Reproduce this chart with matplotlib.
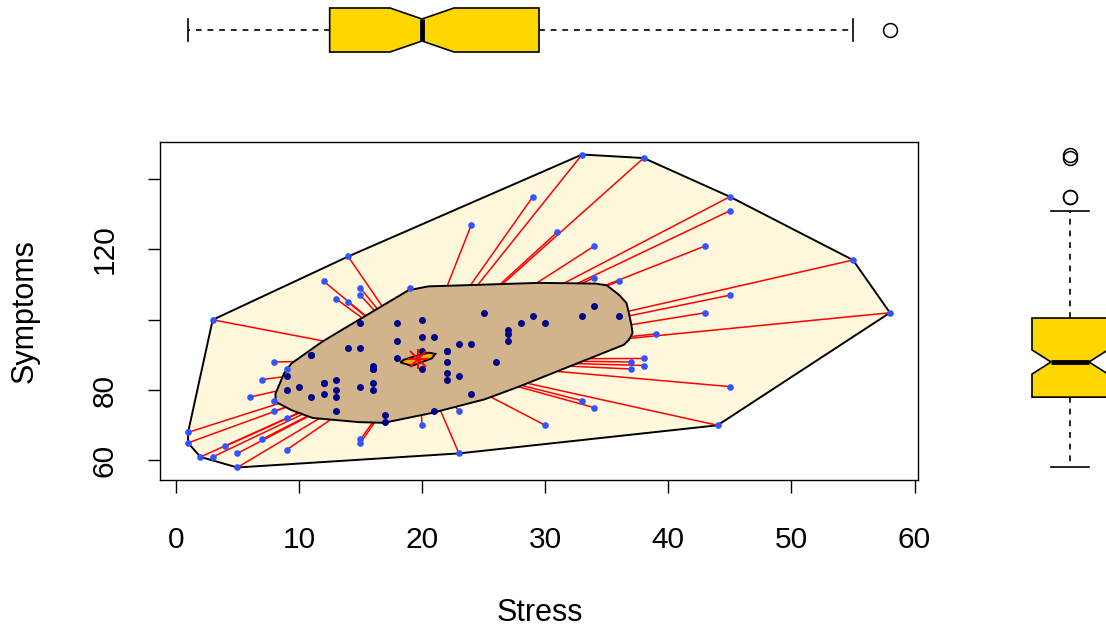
import numpy as np
import matplotlib
matplotlib.use("Agg")
import matplotlib.pyplot as plt
from matplotlib.patches import Polygon

plt.rcParams["font.family"] = ["Liberation Sans", "DejaVu Sans"]

# points outside the bag (inside the loop)
out_stress = [1, 1, 2, 3, 5, 4, 5, 7, 9, 8, 9, 7, 6, 8, 8, 9, 3, 12, 14, 13,
              14, 15, 15, 19, 24, 29, 33, 38, 45, 45, 31, 34, 43, 34, 36, 55,
              58, 45, 43, 39, 38, 38, 37, 37, 45, 33, 34, 30, 44, 23, 23, 20,
              15, 15]
out_symptoms = [68, 65, 61, 61, 58, 64, 62, 66, 63, 88, 86, 83, 78, 77, 74, 72,
                100, 111, 118, 106, 105, 109, 107, 109, 127, 135, 147, 146, 135,
                131, 125, 121, 121, 112, 111, 117, 102, 107, 102, 96, 89, 87, 88,
                86, 81, 77, 75, 70, 70, 74, 62, 70, 66, 65]

# points inside the bag (last four are repeated values, hidden under others,
# needed for the marginal box hinges to match)
bag_stress = [9, 9, 10, 11, 11, 12, 12, 13, 13, 13, 13, 14, 15, 15, 15, 16, 16,
              16, 16, 17, 17, 18, 18, 18, 20, 20, 21, 20, 20, 21, 22, 22, 22,
              22, 23, 24, 23, 24, 25, 26, 27, 27, 27, 28, 29, 30, 33, 34, 36,
              12, 11, 16, 22]
bag_symptoms = [84, 80, 81, 90, 78, 82, 79, 83, 80, 78, 74, 92, 92, 81, 99, 87,
                86, 82, 80, 73, 71, 99, 94, 89, 100, 95, 95, 91, 86, 74, 91, 88,
                85, 83, 93, 93, 84, 79, 102, 88, 97, 96, 94, 99, 101, 99, 101,
                104, 101,
                82, 90, 86, 91]

# bag outline
bag_hull_x = [18.9, 20.5, 29.5, 34.1, 35.0, 36.0, 36.6, 36.8, 37.0, 37.1, 36.8,
              36.4, 27.8, 25.1, 20.8, 16.9, 14.85, 11.1, 9.4, 8.1, 8.1, 8.8,
              9.4, 11.9]
bag_hull_y = [108.4, 109.5, 110.5, 110.3, 109.8, 107.1, 104.8, 101.9, 98.6,
              96.2, 94.3, 92.9, 80.9, 77.4, 73.5, 70.7, 70.9, 72.1, 74.3, 76.7,
              79.0, 84.8, 87.6, 93.8]

# depth median region and centre
med_hull_x = [18.24, 19.18, 20.8, 21.08, 20.54, 19.46, 18.5]
med_hull_y = [87.9, 86.9, 89.05, 90.3, 90.65, 89.7, 88.6]
center_x, center_y = 19.7, 88.8

all_x = np.array(out_stress + bag_stress, dtype=float)
all_y = np.array(out_symptoms + bag_symptoms, dtype=float)


def convex_hull(pts):
    pts = sorted(set(map(tuple, pts)))
    def cross(o, a, b):
        return (a[0] - o[0]) * (b[1] - o[1]) - (a[1] - o[1]) * (b[0] - o[0])
    lower, upper = [], []
    for p in pts:
        while len(lower) >= 2 and cross(lower[-2], lower[-1], p) <= 0:
            lower.pop()
        lower.append(p)
    for p in reversed(pts):
        while len(upper) >= 2 and cross(upper[-2], upper[-1], p) <= 0:
            upper.pop()
        upper.append(p)
    return np.array(lower[:-1] + upper[:-1])


def r_box_stats(v):
    # R style fivenum hinges, fences and notches
    v = np.sort(np.asarray(v, dtype=float))
    n = len(v)
    n4 = np.floor((n + 3) / 2) / 2
    d = np.array([1, n4, (n + 1) / 2, n + 1 - n4, n]) - 1
    fn = 0.5 * (v[np.floor(d).astype(int)] + v[np.ceil(d).astype(int)])
    iqr = fn[3] - fn[1]
    lo_f, hi_f = fn[1] - 1.5 * iqr, fn[3] + 1.5 * iqr
    inside = v[(v >= lo_f) & (v <= hi_f)]
    return dict(med=fn[2], q1=fn[1], q3=fn[3],
                whislo=inside.min(), whishi=inside.max(),
                fliers=v[(v < lo_f) | (v > hi_f)],
                cilo=fn[2] - 1.58 * iqr / np.sqrt(n),
                cihi=fn[2] + 1.58 * iqr / np.sqrt(n))


W, H = 1106, 629
fig = plt.figure(figsize=(W / 100, H / 100), dpi=100)

xlim = (-1.28, 60.28)
ylim = (54.44, 150.56)

ax = fig.add_axes([160 / W, 1 - 480 / H, 758 / W, 338 / H])
ax.set_xlim(*xlim)
ax.set_ylim(*ylim)

hull = convex_hull(np.column_stack([all_x, all_y]))
ax.add_patch(Polygon(hull, closed=True, facecolor="cornsilk", edgecolor="black",
                     lw=1.4, zorder=1))
for px, py in zip(out_stress, out_symptoms):
    ax.plot([center_x, px], [center_y, py], color="red", lw=1.1, zorder=2)
ax.add_patch(Polygon(np.column_stack([bag_hull_x, bag_hull_y]), closed=True,
                     facecolor="tan", edgecolor="black", lw=1.4, zorder=3))
ax.plot(out_stress, out_symptoms, "o", color="#3355FF", ms=4.8, mec="none", zorder=4)
ax.plot(bag_stress, bag_symptoms, "o", color="#000088", ms=5, mec="none", zorder=4)
ax.add_patch(Polygon(np.column_stack([med_hull_x, med_hull_y]), closed=True,
                     facecolor="orange", edgecolor="black", lw=1.4, zorder=5))
ax.plot(center_x, center_y, marker="+", color="red", ms=15, mew=1.4, zorder=6)
ax.plot(center_x, center_y, marker="x", color="red", ms=11, mew=1.4, zorder=6)

ax.set_xticks([0, 10, 20, 30, 40, 50, 60])
ax.set_yticks([60, 80, 100, 120, 140])
ax.set_yticklabels(["60", "80", "", "120", ""], rotation=90, va="center")
ax.tick_params(direction="out", length=9, width=1, labelsize=21.5)
ax.tick_params(axis="x", pad=24)
ax.tick_params(axis="y", pad=21)
for s in ax.spines.values():
    s.set_linewidth(1)

fig.text(540 / W, 1 - 613 / H, "Stress", ha="center", va="center", fontsize=22)
fig.text(25 / W, 1 - 311 / H, "Symptoms", ha="center", va="center",
         rotation=90, fontsize=22)

box_kw = dict(patch_artist=True, showfliers=True, shownotches=True,
              boxprops=dict(facecolor="gold", edgecolor="black", lw=1.2),
              medianprops=dict(color="black", lw=3.5, solid_capstyle="butt"),
              whiskerprops=dict(color="black", lw=1.2, linestyle=(0, (3.5, 3.5))),
              capprops=dict(color="black", lw=1.2),
              flierprops=dict(marker="o", mfc="none", mec="black", ms=10, mew=1.1))

# marginal boxplot for Stress (top)
axt = fig.add_axes([160 / W, 1 - 60 / H, 758 / W, 60 / H])
st = r_box_stats(all_x)
axt.bxp([st], positions=[0.5], widths=[44 / 60], orientation="horizontal", **box_kw)
axt.set_xlim(*xlim)
axt.set_ylim(0, 1)
axt.axis("off")

# marginal boxplot for Symptoms (right)
axr = fig.add_axes([1000 / W, 1 - 480 / H, 140 / W, 338 / H])
sr = r_box_stats(all_y)
axr.bxp([sr], positions=[0.5], widths=[76 / 140], orientation="vertical", **box_kw)
axr.set_xlim(0, 1)
axr.set_ylim(*ylim)
axr.axis("off")

fig.savefig("out.png", dpi=100)
